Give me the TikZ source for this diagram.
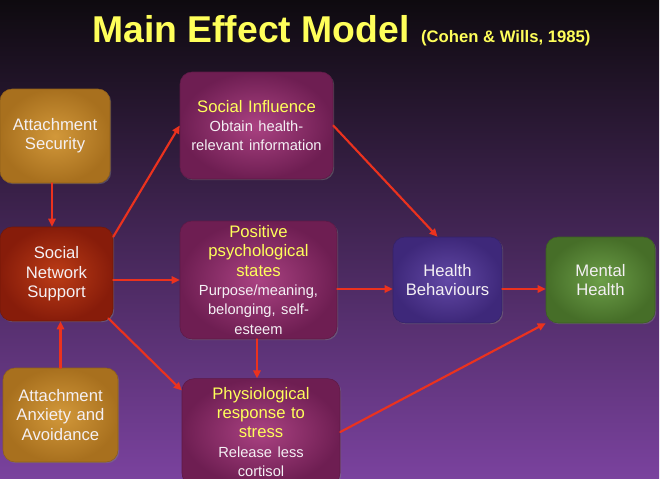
\documentclass[tikz,border=0pt]{standalone}
\usepackage{fontspec}
\setmainfont{Liberation Sans}
\usetikzlibrary{arrows.meta,calc,shadows}

\definecolor{cBgTop}{RGB}{14, 10, 15}
\definecolor{cBgMid}{RGB}{60, 33, 80}
\definecolor{cBgBot}{RGB}{122, 66, 158}
\definecolor{cHead}{RGB}{255, 255, 90}
\definecolor{cText}{RGB}{244, 240, 244}
\definecolor{cArrow}{RGB}{235, 50, 30}
\definecolor{cGoldIn}{RGB}{210, 152, 58}
\definecolor{cGoldOut}{RGB}{168, 112, 30}
\definecolor{cRedIn}{RGB}{188, 60, 22}
\definecolor{cRedOut}{RGB}{135, 28, 10}
\definecolor{cPlumIn}{RGB}{170, 66, 130}
\definecolor{cPlumOut}{RGB}{110, 30, 82}
\definecolor{cVioIn}{RGB}{98, 72, 165}
\definecolor{cVioOut}{RGB}{62, 40, 122}
\definecolor{cGreenIn}{RGB}{108, 158, 72}
\definecolor{cGreenOut}{RGB}{70, 110, 40}

\newcommand{\boxhead}[1]{{\color{cHead}#1}}
\newcommand{\boxsub}{\fontsize{11}{14.5}\selectfont}

\tikzset{
  box/.style={rounded corners=9pt, align=center, text=cText, inner sep=0pt,
    font=\fontsize{12.5}{14.5}\selectfont,
    drop shadow={shadow xshift=0.9pt, shadow yshift=-0.9pt, opacity=0.45}},
  goldbox/.style={box, inner color=cGoldIn, outer color=cGoldOut, draw=cGoldOut!85!black},
  redbox/.style={box, inner color=cRedIn, outer color=cRedOut, draw=cRedOut!85!black},
  plumbox/.style={box, inner color=cPlumIn, outer color=cPlumOut, draw=cPlumOut!85!black},
  viobox/.style={box, inner color=cVioIn, outer color=cVioOut, draw=cVioOut!85!black},
  greenbox/.style={box, inner color=cGreenIn, outer color=cGreenOut, draw=cGreenOut!85!black},
  arr/.style={draw=cArrow, line width=1.6pt, -{Triangle[length=6pt, width=5.5pt]}}
}

\begin{document}
\begin{tikzpicture}[x=0.75pt, y=-0.75pt, line join=round, line cap=round]
  \clip (0,0) rectangle (666,478);
  \fill[white] (0,0) rectangle (666,478);
  \shade[top color=cBgTop, middle color=cBgMid, bottom color=cBgBot] (0,0) rectangle (659,478);

  % title
  \node[anchor=base west, inner sep=0pt, text=cHead, font=\bfseries\fontsize{28}{30}\selectfont]
    (title) at (92,43) {Main Effect Model};
  \node[anchor=base west, inner sep=0pt, text=cHead, font=\bfseries\fontsize{12.5}{14}\selectfont]
    (cite) at ($(title.base east)+(11,0)$) {(Cohen \& Wills, 1985)};

  % boxes
  \node[goldbox, text width=82.5pt, minimum height=70.5pt] (sec) at (55,136)
    {Attachment\\ Security};
  \node[redbox, text width=84.75pt, minimum height=70.5pt] (sns) at (56.5,274)
    {Social\\ Network\\ Support};
  \node[goldbox, text width=86.25pt, minimum height=70.5pt] (anx) at (60.5,415)
    {Attachment\\ Anxiety and\\ Avoidance};
  \node[plumbox, text width=114.75pt, minimum height=80.25pt] (inf) at (256.5,125.5)
    {\boxhead{Social Influence}\\ {\boxsub Obtain health-\\ relevant information}};
  \node[plumbox, text width=117.75pt, minimum height=88.5pt] (pos) at (258.5,280)
    {\boxhead{Positive}\\ \boxhead{psychological}\\ \boxhead{states}\\
     {\boxsub Purpose/meaning,\\ belonging, self-\\ esteem}};
  \node[plumbox, text width=118.5pt, minimum height=80pt] (phy) at (261,432)
    {\boxhead{Physiological}\\ \boxhead{response to}\\ \boxhead{stress}\\
     {\boxsub Release less\\ cortisol}};
  \node[viobox, text width=81.75pt, minimum height=64.5pt] (hb) at (447.5,280)
    {Health\\ Behaviours};
  \node[greenbox, text width=81.75pt, minimum height=64.5pt] (mh) at (600.5,280)
    {Mental\\ Health};

  % connectors
  \draw[arr] ($(sec.south)+(-3,0)$) -- ($(sec.south |- sns.north)+(-3,0)$);
  \draw[arr] (anx.north) -- (anx.north |- sns.south);
  \draw[arr] ($(sns.north east)+(0,10)$) -- (inf.west);
  \draw[arr] (pos.west -| sns.east) -- (pos.west);
  \draw[arr] ($(sns.south east)+(-5,-3)$) -- ($(phy.north west)+(0,12)$);
  \draw[arr] (inf.east) -- ($(hb.north)+(-10,0)$);
  \draw[arr] ($(pos.east)+(0,9)$) -- ($(hb.west)+(0,9)$);
  \draw[arr] ($(pos.south)+(-1.5,0)$) -- ($(pos.south |- phy.north)+(-1.5,0)$);
  \draw[arr] ($(hb.east)+(0,9)$) -- ($(mh.west)+(0,9)$);
  \draw[arr] (phy.east) -- (mh.south west);
\end{tikzpicture}
\end{document}
